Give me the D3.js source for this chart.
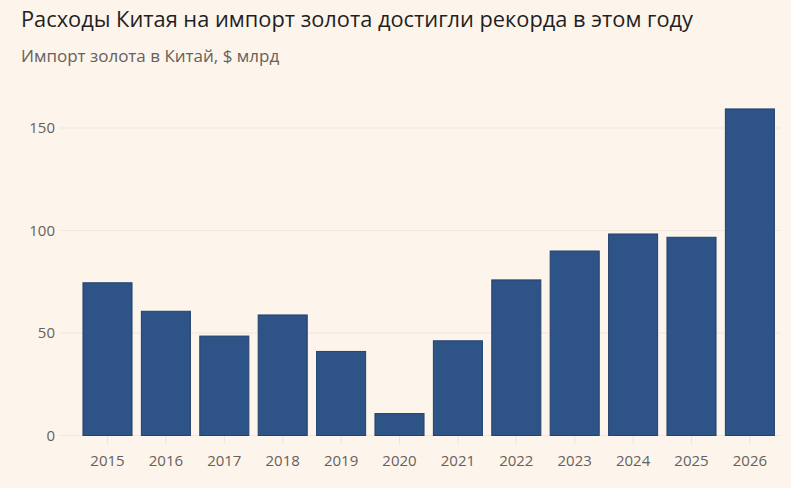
<!DOCTYPE html>
<html><head><meta charset="utf-8">
<script src="https://cdn.jsdelivr.net/npm/d3@7"></script>
<style>
html,body{margin:0;padding:0;background:#fdf4eb;}
svg{display:block;font-family:"Open Sans","Noto Sans",sans-serif;}
</style></head>
<body><svg id="c" width="791" height="488"></svg>
<script>
const years = ["2015","2016","2017","2018","2019","2020","2021","2022","2023","2024","2025","2026"];
const values = [74.5, 60.6, 48.5, 58.8, 41, 10.7, 46.2, 75.9, 90, 98.3, 96.7, 159.3];
const yTicks = [0, 50, 100, 150];
const title = "Расходы Китая на импорт золота достигли рекорда в этом году";
const subtitle = "Импорт золота в Китай, $ млрд";

const svg = d3.select("#c");
svg.append("rect").attr("width",791).attr("height",488).attr("fill","#fdf4eb");

svg.append("text").attr("x",21).attr("y",27).attr("font-size",21.8).attr("fill","#1f1f1f").text(title);
svg.append("text").attr("x",21).attr("y",62).attr("font-size",17).attr("fill","#66615c").text(subtitle);

const x = d3.scaleBand().domain(years).range([78.3,779.1]).paddingInner(0.16).paddingOuter(0.08);
const y = d3.scaleLinear().domain([0,150]).range([435.5,128]);

// gridlines
svg.append("g").selectAll("line").data(yTicks).join("line")
  .attr("x1",60).attr("x2",780).attr("y1",d=>y(d)).attr("y2",d=>y(d))
  .attr("stroke","#f2e7dc").attr("stroke-width",1);

// y labels
svg.append("g").selectAll("text").data(yTicks).join("text")
  .attr("x",55).attr("y",d=>y(d)).attr("dy","0.35em").attr("text-anchor","end")
  .attr("font-size",15).attr("fill","#66615c").text(d=>d);

// x axis
const xAxis = svg.append("g").attr("transform",`translate(0,${y(0)})`)
  .call(d3.axisBottom(x).tickSize(8).tickPadding(12).tickSizeOuter(0));
xAxis.select(".domain").remove();
xAxis.selectAll(".tick line").attr("stroke","#efe3d7");
xAxis.selectAll(".tick text").attr("font-size",15).attr("fill","#66615c").attr("font-family","\"Open Sans\",sans-serif");

// bars
svg.append("g").selectAll("rect").data(years).join("rect")
  .attr("x",d=>x(d)).attr("width",x.bandwidth())
  .attr("y",(d,i)=>y(values[i])).attr("height",(d,i)=>y(0)-y(values[i]))
  .attr("fill","#2e5386").attr("stroke","#23416d").attr("stroke-width",1);
</script></body></html>
